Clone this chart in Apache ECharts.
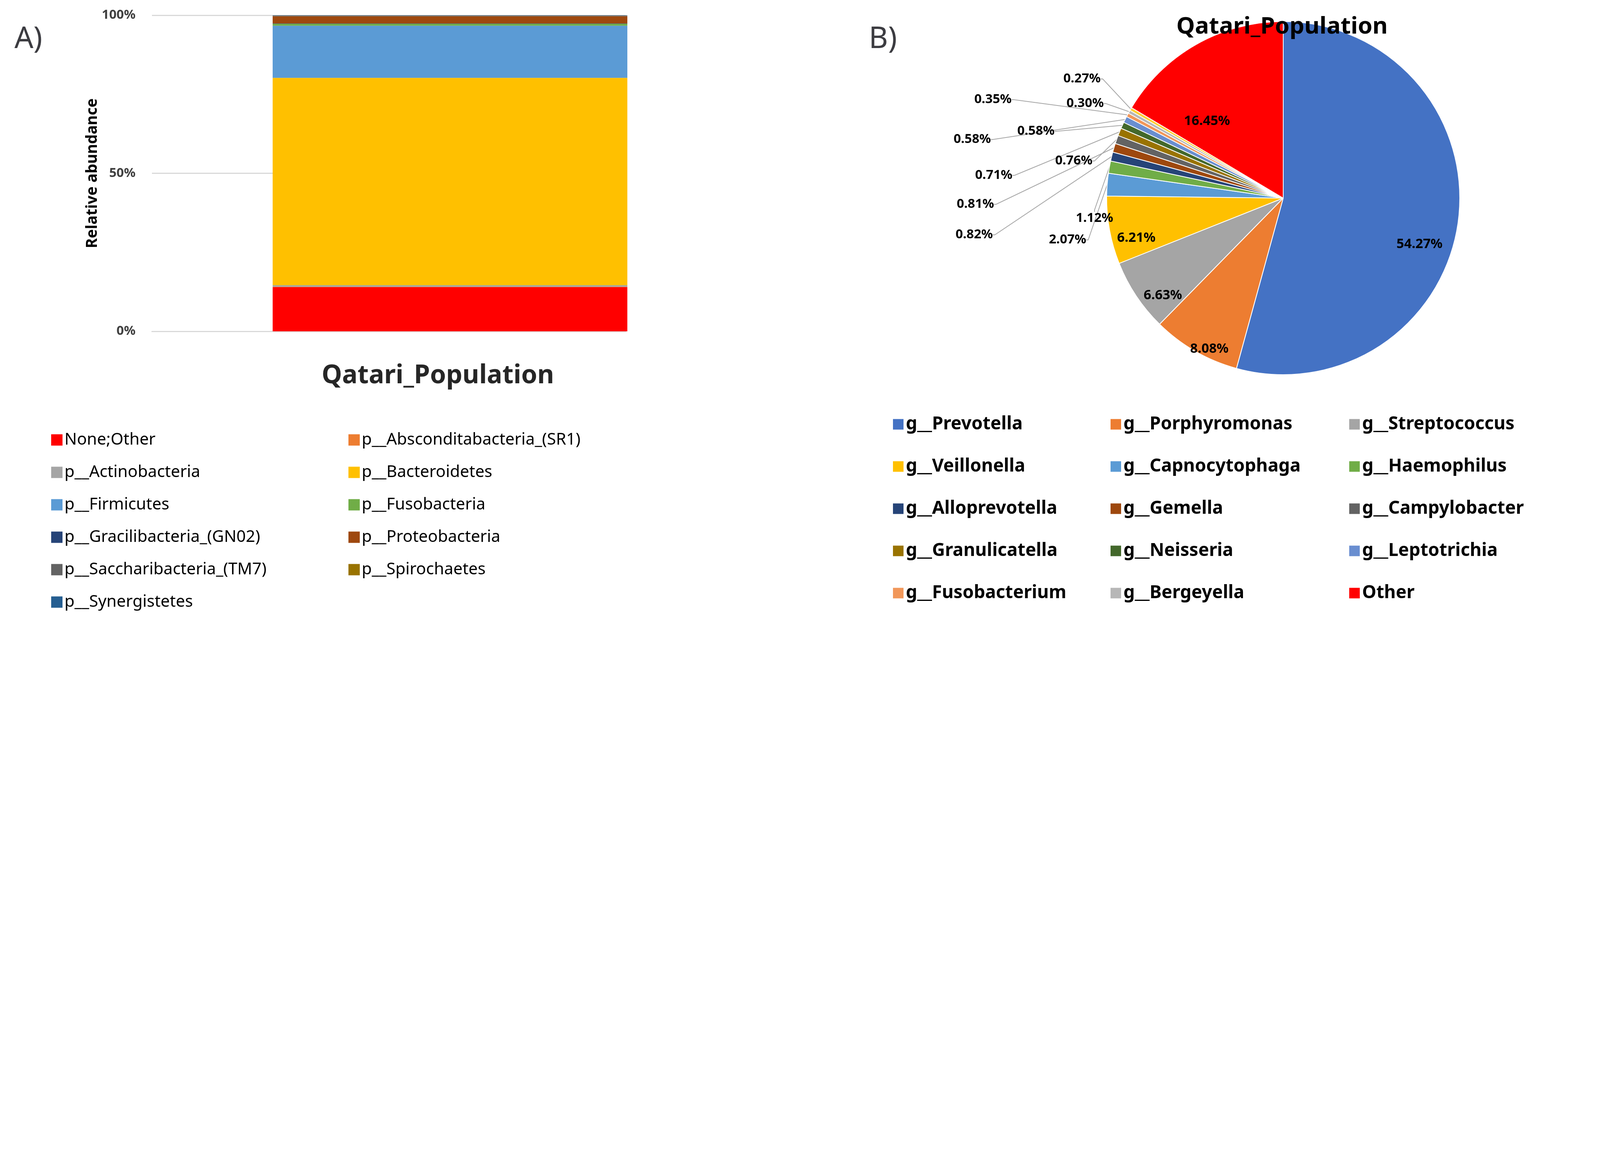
<!DOCTYPE html>
<html>
<head>
<meta charset="utf-8">
<script src="https://cdn.jsdelivr.net/npm/echarts@6/dist/echarts.min.js"></script>
<style>html,body{margin:0;background:#fff;overflow:hidden}#c{width:100vw;height:100vh}</style>
</head>
<body>
<div id="c"></div>
<script>
// reference was read at ~1560px wide, scale up to the real viewport
var S = window.innerWidth / 1560;
function px(v) { return Math.round(v * S); }
var FONT = "Noto Sans";

// panel A: phylum level stacked bar
var barCategory = ["Qatari_Population"];
var phyla = ["None;Other", "p__Absconditabacteria_(SR1)", "p__Actinobacteria", "p__Bacteroidetes",
  "p__Firmicutes", "p__Fusobacteria", "p__Gracilibacteria_(GN02)", "p__Proteobacteria",
  "p__Saccharibacteria_(TM7)", "p__Spirochaetes", "p__Synergistetes"];
var phylaValues = [14.0, 0.1, 0.5, 65.6, 16.5, 0.6, 0.1, 2.3, 0.2, 0.05, 0.05];
var phylaColors = ["#FF0000", "#ED7D31", "#A5A5A5", "#FFC000", "#5B9BD5", "#70AD47",
  "#264478", "#9E480E", "#636363", "#997300", "#255E91"];
var yTicks = [0, 50, 100];

// panel B: genus level pie
var genera = ["g__Prevotella", "g__Porphyromonas", "g__Streptococcus", "g__Veillonella",
  "g__Capnocytophaga", "g__Haemophilus", "g__Alloprevotella", "g__Gemella", "g__Campylobacter",
  "g__Granulicatella", "g__Neisseria", "g__Leptotrichia", "g__Fusobacterium", "g__Bergeyella",
  "g__Unassigned", "Other"];
var genusValues = [54.27, 8.08, 6.63, 6.21, 2.07, 1.12, 0.82, 0.81, 0.76, 0.71, 0.58, 0.58,
  0.35, 0.30, 0.27, 16.45];
var genusColors = ["#4472C4", "#ED7D31", "#A5A5A5", "#FFC000", "#5B9BD5", "#70AD47", "#264478",
  "#9E480E", "#636363", "#997300", "#43682B", "#698ED0", "#F1975A", "#B7B7B7", "#FFCD33", "#FF0000"];
var insideSlices = [0, 1, 2, 3, 15];
// label centres (in 1560-wide reference units)
var labelPos = [[1384,238],[1179,340],[1134,288],[1108,232],[1041,234],[1067,213],[950,229],
  [951,199],[1047,157],[969,171],[1010,128],[948,136],[968,97],[1058,101],[1055,77],[1177,118]];

var chart = echarts.init(document.getElementById("c"));

var barSeries = phyla.map(function (name, i) {
  return {
    name: name, type: "bar", stack: "all", xAxisIndex: 1, yAxisIndex: 1,
    barWidth: "100%", itemStyle: { color: phylaColors[i] },
    data: [phylaValues[i]]
  };
});

var pieData = genera.map(function (name, i) {
  var inside = insideSlices.indexOf(i) >= 0;
  return {
    name: name, value: genusValues[i], itemStyle: { color: genusColors[i] },
    label: { fontSize: inside ? px(13) : px(12.5) },
    labelLine: { show: !inside }
  };
});

function colLegend(names, left, top, fs, bold) {
  return {
    orient: "vertical", left: left, top: top, height: px(300), data: names,
    itemWidth: px(11), itemHeight: px(11), itemGap: px(bold ? 23.5 : 15.5),
    icon: "rect", selectedMode: false,
    textStyle: { fontSize: fs, fontFamily: FONT, fontWeight: bold ? "bold" : "normal", color: "#000" }
  };
}

chart.setOption({
  backgroundColor: "#fff",
  animation: false,
  title: [
    { text: "A)", left: px(12), top: px(22), textStyle: { fontSize: px(29), fontWeight: "normal", fontFamily: FONT } },
    { text: "B)", left: px(845), top: px(22), textStyle: { fontSize: px(29), fontWeight: "normal", fontFamily: FONT } },
    { text: "Qatari_Population", left: px(425), top: px(352), textAlign: "center",
      textStyle: { fontSize: px(25), fontWeight: "bold", fontFamily: FONT, color: "#262626" } },
    { text: "Qatari_Population", left: px(1248), top: px(13), textAlign: "center",
      textStyle: { fontSize: px(23), fontWeight: "bold", fontFamily: FONT, color: "#000" } }
  ],
  legend: [
    colLegend(phyla.filter(function (n, i) { return i % 2 === 0; }), px(48), px(419), px(16), false),
    colLegend(phyla.filter(function (n, i) { return i % 2 === 1; }), px(338), px(419), px(16), false),
    colLegend([genera[0], genera[3], genera[6], genera[9], genera[12]], px(868), px(403), px(17.5), true),
    colLegend([genera[1], genera[4], genera[7], genera[10], genera[13]], px(1080), px(403), px(17.5), true),
    colLegend([genera[2], genera[5], genera[8], genera[11], genera[15]], px(1313), px(403), px(17.5), true)
  ],
  grid: [
    { left: px(148), width: px(462), top: px(15), height: px(308) },
    { left: px(266), width: px(346), top: px(15), height: px(308) }
  ],
  xAxis: [
    { type: "category", gridIndex: 0, data: [""], axisTick: { show: false }, axisLabel: { show: false },
      axisLine: { lineStyle: { color: "#D9D9D9", width: px(1) } } },
    { type: "category", gridIndex: 1, data: barCategory, show: false }
  ],
  yAxis: [
    { type: "value", gridIndex: 0, min: 0, max: 100, interval: 50,
      name: "Relative abundance", nameLocation: "middle", nameGap: px(50),
      nameTextStyle: { fontSize: px(15), fontWeight: "bold", fontFamily: FONT, color: "#000" },
      axisLabel: { formatter: "{value}%", fontSize: px(12.5), fontWeight: "bold", fontFamily: FONT, color: "#404040", margin: px(16) },
      splitLine: { lineStyle: { color: "#D9D9D9", width: px(1) } },
      axisLine: { show: false }, axisTick: { show: false } },
    { type: "value", gridIndex: 1, min: 0, max: 100, show: false }
  ],
  series: barSeries.concat([{
    name: "genus", type: "pie", center: [px(1251), px(193)], radius: px(172),
    startAngle: 90, clockwise: true, data: pieData,
    label: {
      position: "outside", color: "#000", fontWeight: "bold", fontFamily: FONT,
      formatter: function (p) { return p.value.toFixed(2) + "%"; }
    },
    labelLine: { lineStyle: { color: "#A6A6A6", width: px(0.8) }, length: 5, length2: 5 },
    itemStyle: { borderColor: "#fff", borderWidth: px(0.8) },
    labelLayout: function (p) {
      var q = labelPos[p.dataIndex];
      return { x: px(q[0]), y: px(q[1]), align: "center", verticalAlign: "middle" };
    }
  }])
});
</script>
</body>
</html>
